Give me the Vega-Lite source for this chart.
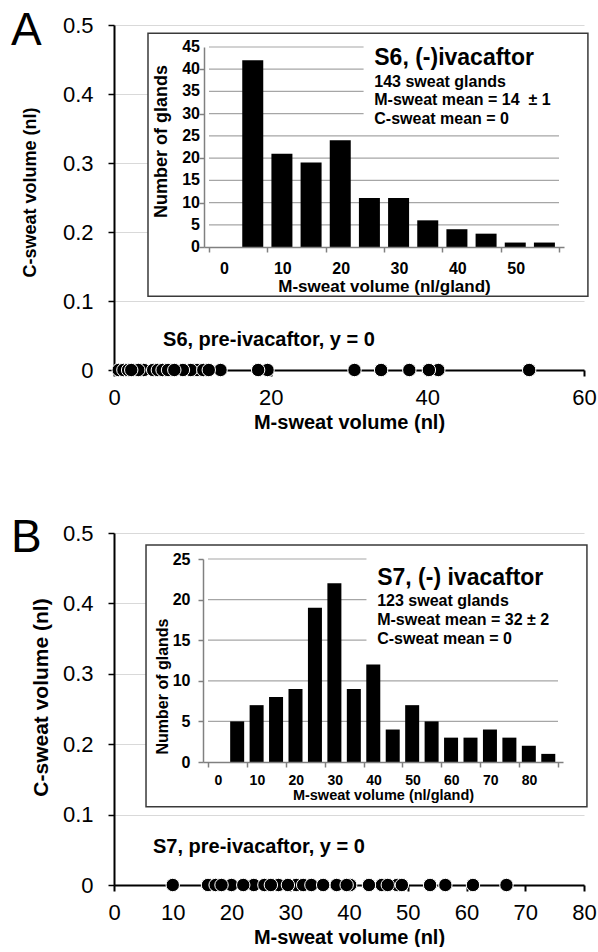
{
  "$schema": "https://vega.github.io/schema/vega-lite/v6.json",
  "padding": {"left": 10, "top": 8, "right": 0, "bottom": 0},
  "background": "white",
  "config": {
    "font": "Liberation Sans",
    "view": {"stroke": null},
    "axis": {"labelColor": "black", "titleColor": "black", "labelFont": "Liberation Sans", "titleFont": "Liberation Sans", "labelOverlap": false, "labelSeparation": 0}
  },
  "datasets": {
    "preA": [
      {"m": 0.6, "c": 0}, {"m": 1.2, "c": 0}, {"m": 1.8, "c": 0}, {"m": 3.8, "c": 0}, {"m": 3.1, "c": 0},
      {"m": 5.0, "c": 0}, {"m": 5.6, "c": 0}, {"m": 6.2, "c": 0}, {"m": 6.9, "c": 0}, {"m": 10.6, "c": 0},
      {"m": 9.8, "c": 0}, {"m": 8.8, "c": 0}, {"m": 13.6, "c": 0}, {"m": 19.6, "c": 0}, {"m": 2.2, "c": 0},
      {"m": 7.7, "c": 0}, {"m": 11.4, "c": 0}, {"m": 12.1, "c": 0}, {"m": 18.4, "c": 0}, {"m": 30.7, "c": 0},
      {"m": 34.1, "c": 0}, {"m": 37.7, "c": 0}, {"m": 41.4, "c": 0}, {"m": 40.2, "c": 0}, {"m": 53.0, "c": 0}
    ],
    "preB": [
      {"m": 16.0, "c": 0}, {"m": 17.3, "c": 0}, {"m": 20.0, "c": 0}, {"m": 23.8, "c": 0}, {"m": 25.6, "c": 0},
      {"m": 28.0, "c": 0}, {"m": 31.0, "c": 0}, {"m": 32.2, "c": 0}, {"m": 33.6, "c": 0}, {"m": 37.9, "c": 0},
      {"m": 40.2, "c": 0}, {"m": 45.6, "c": 0}, {"m": 48.2, "c": 0}, {"m": 49.0, "c": 0},
      {"m": 10.0, "c": 0}, {"m": 18.3, "c": 0}, {"m": 22.0, "c": 0}, {"m": 26.7, "c": 0}, {"m": 29.6, "c": 0},
      {"m": 35.6, "c": 0}, {"m": 39.6, "c": 0}, {"m": 43.4, "c": 0}, {"m": 46.6, "c": 0}, {"m": 53.8, "c": 0},
      {"m": 56.4, "c": 0}, {"m": 61.1, "c": 0}, {"m": 66.8, "c": 0}
    ],
    "histA": [
      {"bin": 5, "n": 42}, {"bin": 10, "n": 21}, {"bin": 15, "n": 19}, {"bin": 20, "n": 24},
      {"bin": 25, "n": 11}, {"bin": 30, "n": 11}, {"bin": 35, "n": 6}, {"bin": 40, "n": 4},
      {"bin": 45, "n": 3}, {"bin": 50, "n": 1}, {"bin": 55, "n": 1}
    ],
    "histB": [
      {"bin": 5, "n": 5}, {"bin": 10, "n": 7}, {"bin": 15, "n": 8}, {"bin": 20, "n": 9},
      {"bin": 25, "n": 19}, {"bin": 30, "n": 22}, {"bin": 35, "n": 9}, {"bin": 40, "n": 12},
      {"bin": 45, "n": 4}, {"bin": 50, "n": 7}, {"bin": 55, "n": 5}, {"bin": 60, "n": 3},
      {"bin": 65, "n": 3}, {"bin": 70, "n": 4}, {"bin": 75, "n": 3}, {"bin": 80, "n": 2}, {"bin": 85, "n": 1}
    ],
    "gridA": [{"g": 5}, {"g": 10}, {"g": 15}, {"g": 20}, {"g": 25}, {"g": 30}, {"g": 35}, {"g": 40}, {"g": 45}],
    "ticksA": [{"v": 0}, {"v": 5}, {"v": 10}, {"v": 15}, {"v": 20}, {"v": 25}, {"v": 30}, {"v": 35}, {"v": 40}, {"v": 45}],
    "gridB": [{"g": 5}, {"g": 10}, {"g": 15}, {"g": 20}, {"g": 25}]
  },
  "bounds": "flush",
  "spacing": 163,
  "vconcat": [
    {
      "width": 470,
      "height": 345,
      "resolve": {"scale": {"x": "independent", "y": "independent"}},
      "layer": [
        {
          "layer": [
            {
              "data": {"name": "preA"},
              "mark": {"type": "circle", "size": 180, "fill": "black", "stroke": "white", "strokeWidth": 1, "opacity": 1},
              "encoding": {
                "x": {
                  "field": "m", "type": "quantitative",
                  "scale": {"domain": [0, 60], "nice": false},
                  "axis": {
                    "orient": "bottom", "values": [0, 20, 40, 60], "grid": false, "zindex": 0,
                    "domainColor": "black", "domainWidth": 2, "tickColor": "black", "tickWidth": 2, "tickSize": 6,
                    "labelFontSize": 22, "labelPadding": 11, "labelFlush": false,
                    "title": "M-sweat volume (nl)", "titleFontSize": 20, "titleFontWeight": "bold", "titlePadding": 4
                  }
                },
                "y": {
                  "field": "c", "type": "quantitative",
                  "scale": {"domain": [0, 0.5], "nice": false},
                  "axis": {
                    "orient": "left", "values": [0, 0.1, 0.2, 0.3, 0.4, 0.5], "format": ".1~f", "zindex": 0,
                    "grid": true, "gridColor": "#d9d9d9", "gridWidth": 1,
                    "domainColor": "black", "domainWidth": 2, "tickColor": "black", "tickWidth": 1.5, "tickSize": 6,
                    "labelFontSize": 22, "labelPadding": 15, "labelFlush": false, "labelOverlap": false,
                    "title": "C-sweat volume (nl)", "titleFontSize": 18, "titleFontWeight": "bold", "titlePadding": 23, "titleY": 167
                  }
                }
              }
            },
            {
              "data": {"values": [{}]},
              "mark": {"type": "rect", "fill": "white", "stroke": "#3a3a3a", "strokeWidth": 1.5},
              "encoding": {
                "x": {"datum": 4.34, "type": "quantitative"},
                "x2": {"datum": 60.5},
                "y": {"datum": 0.488, "type": "quantitative"},
                "y2": {"datum": 0.107}
              }
            },
            {
              "data": {"values": [{"t": "S6, pre-ivacaftor, y = 0"}]},
              "mark": {"type": "text", "align": "left", "baseline": "middle", "fontSize": 20, "fontWeight": "bold", "font": "Liberation Sans", "color": "black"},
              "encoding": {
                "x": {"datum": 6.26, "type": "quantitative"},
                "y": {"datum": 0.0435, "type": "quantitative"},
                "text": {"field": "t"}
              }
            },
            {
              "data": {"values": [{"t": "A"}]},
              "mark": {"type": "text", "align": "left", "baseline": "alphabetic", "fontSize": 46, "font": "Liberation Sans", "color": "black"},
              "encoding": {
                "x": {"datum": -13.15, "type": "quantitative"},
                "y": {"datum": 0.471, "type": "quantitative"},
                "text": {"field": "t"}
              }
            }
          ]
        },
        {
          "layer": [
            {
              "data": {"name": "gridA"},
              "mark": {"type": "rule", "color": "#a6a6a6", "strokeWidth": 1.2},
              "encoding": {
                "x": {
                  "datum": -2.5, "type": "quantitative",
                  "scale": {"domain": [-2.5, 57.5], "range": [90, 450], "nice": false, "zero": false},
                  "axis": {
                    "orient": "bottom", "offset": -123, "zindex": 1, "grid": false,
                    "values": [-2.5, 2.5, 7.5, 12.5, 17.5, 22.5, 27.5, 32.5, 37.5, 42.5, 47.5, 52.5, 57.5],
                    "labelExpr": "(datum.value + 2.5) % 10 == 0 && datum.value < 55 ? format(datum.value + 2.5, 'd') : ''",
                    "labelOffset": 15, "labelOverlap": false, "labelFlush": false, "labelBound": false,
                    "labelFontSize": 16, "labelFontWeight": "bold", "labelPadding": 8,
                    "domainColor": "#808080", "domainWidth": 1.5, "tickColor": "#808080", "tickWidth": 1.5, "tickSize": 5,
                    "title": "M-sweat volume (nl/gland)", "titleFontSize": 17, "titleFontWeight": "bold", "titlePadding": 2
                  }
                },
                "x2": {"datum": 57.5},
                "y": {
                  "field": "g", "type": "quantitative",
                  "scale": {"domain": [0, 45], "range": [222, 22], "nice": false},
                  "axis": {
                    "orient": "left", "offset": -90, "zindex": 1, "grid": false,
                    "values": [0, 5, 10, 15, 20, 25, 30, 35, 40, 45],
                    "labels": false,
                    "domainColor": "#808080", "domainWidth": 1.5, "tickColor": "#808080", "tickWidth": 1.5, "tickSize": 5,
                    "title": "Number of glands", "titleFontSize": 18, "titleFontWeight": "bold", "titlePadding": 28, "titleY": 116
                  }
                }
              }
            },
            {
              "data": {"name": "histA"},
              "mark": {"type": "bar", "color": "black", "size": 21, "orient": "vertical"},
              "encoding": {
                "x": {"field": "bin", "type": "quantitative"},
                "y": {"field": "n", "type": "quantitative"}
              }
            },
            {
              "data": {"name": "ticksA"},
              "mark": {"type": "text", "align": "right", "baseline": "middle", "dx": -9, "fontSize": 16, "fontWeight": "bold", "font": "Liberation Sans", "color": "black"},
              "encoding": {
                "x": {"datum": -2.5, "type": "quantitative"},
                "y": {"field": "v", "type": "quantitative"},
                "text": {"field": "v", "type": "quantitative"}
              }
            },
            {
              "data": {"values": [{}]},
              "mark": {"type": "rect", "fill": "white"},
              "encoding": {
                "x": {"datum": 24, "type": "quantitative"},
                "x2": {"datum": 57.5},
                "y": {"datum": 47, "type": "quantitative"},
                "y2": {"datum": 27}
              }
            },
            {
              "data": {"values": [{"t": "S6, (-)ivacaftor"}]},
              "mark": {"type": "text", "align": "left", "baseline": "middle", "fontSize": 23, "fontWeight": "bold", "font": "Liberation Sans", "color": "black"},
              "encoding": {
                "x": {"datum": 25.83, "type": "quantitative"},
                "y": {"datum": 42.5, "type": "quantitative"},
                "text": {"field": "t"}
              }
            },
            {
              "data": {"values": [{"t": ["143 sweat glands", "M-sweat mean = 14\u00a0 ± 1", "C-sweat mean = 0"]}]},
              "mark": {"type": "text", "align": "left", "baseline": "middle", "fontSize": 16, "lineHeight": 18.5, "fontWeight": "bold", "font": "Liberation Sans", "color": "black"},
              "encoding": {
                "x": {"datum": 25.83, "type": "quantitative"},
                "y": {"datum": 37.13, "type": "quantitative"},
                "text": {"field": "t"}
              }
            }
          ]
        }
      ]
    },
    {
      "width": 470,
      "height": 352,
      "resolve": {"scale": {"x": "independent", "y": "independent"}},
      "layer": [
        {
          "layer": [
            {
              "data": {"name": "preB"},
              "mark": {"type": "circle", "size": 180, "fill": "black", "stroke": "white", "strokeWidth": 1, "opacity": 1},
              "encoding": {
                "x": {
                  "field": "m", "type": "quantitative",
                  "scale": {"domain": [0, 80], "nice": false},
                  "axis": {
                    "orient": "bottom", "values": [0, 10, 20, 30, 40, 50, 60, 70, 80], "grid": false, "zindex": 0,
                    "domainColor": "black", "domainWidth": 2, "tickColor": "black", "tickWidth": 2, "tickSize": 6,
                    "labelFontSize": 22, "labelPadding": 11, "labelFlush": false,
                    "title": "M-sweat volume (nl)", "titleFontSize": 20, "titleFontWeight": "bold", "titlePadding": 4
                  }
                },
                "y": {
                  "field": "c", "type": "quantitative",
                  "scale": {"domain": [0, 0.5], "nice": false},
                  "axis": {
                    "orient": "left", "values": [0, 0.1, 0.2, 0.3, 0.4, 0.5], "format": ".1~f", "zindex": 0,
                    "grid": true, "gridColor": "#d9d9d9", "gridWidth": 1,
                    "domainColor": "black", "domainWidth": 2, "tickColor": "black", "tickWidth": 1.5, "tickSize": 6,
                    "labelFontSize": 22, "labelPadding": 15, "labelFlush": false, "labelOverlap": false,
                    "title": "C-sweat volume (nl)", "titleFontSize": 21, "titleFontWeight": "bold", "titlePadding": 11, "titleY": 164
                  }
                }
              }
            },
            {
              "data": {"values": [{}]},
              "mark": {"type": "rect", "fill": "white", "stroke": "#3a3a3a", "strokeWidth": 1.5},
              "encoding": {
                "x": {"datum": 5.45, "type": "quantitative"},
                "x2": {"datum": 80.5},
                "y": {"datum": 0.483, "type": "quantitative"},
                "y2": {"datum": 0.111}
              }
            },
            {
              "data": {"values": [{"t": "S7, pre-ivacaftor, y = 0"}]},
              "mark": {"type": "text", "align": "left", "baseline": "middle", "fontSize": 20, "fontWeight": "bold", "font": "Liberation Sans", "color": "black"},
              "encoding": {
                "x": {"datum": 6.64, "type": "quantitative"},
                "y": {"datum": 0.054, "type": "quantitative"},
                "text": {"field": "t"}
              }
            },
            {
              "data": {"values": [{"t": "B"}]},
              "mark": {"type": "text", "align": "left", "baseline": "alphabetic", "fontSize": 46, "font": "Liberation Sans", "color": "black"},
              "encoding": {
                "x": {"datum": -17.53, "type": "quantitative"},
                "y": {"datum": 0.473, "type": "quantitative"},
                "text": {"field": "t"}
              }
            }
          ]
        },
        {
          "layer": [
            {
              "data": {"name": "gridB"},
              "mark": {"type": "rule", "color": "#a6a6a6", "strokeWidth": 1.2},
              "encoding": {
                "x": {
                  "datum": -2.5, "type": "quantitative",
                  "scale": {"domain": [-2.5, 87.5], "range": [89, 449], "nice": false, "zero": false},
                  "axis": {
                    "orient": "bottom", "offset": -123, "zindex": 1, "grid": false,
                    "values": [-2.5, 2.5, 7.5, 12.5, 17.5, 22.5, 27.5, 32.5, 37.5, 42.5, 47.5, 52.5, 57.5, 62.5, 67.5, 72.5, 77.5, 82.5, 87.5],
                    "labelExpr": "(datum.value + 2.5) % 10 == 0 && datum.value < 85 ? format(datum.value + 2.5, 'd') : ''",
                    "labelOffset": 10, "labelOverlap": false, "labelFlush": false, "labelBound": false,
                    "labelFontSize": 14, "labelFontWeight": "bold", "labelPadding": 6,
                    "domainColor": "#808080", "domainWidth": 1.5, "tickColor": "#808080", "tickWidth": 1.5, "tickSize": 5,
                    "title": "M-sweat volume (nl/gland)", "titleFontSize": 14.5, "titleFontWeight": "bold", "titlePadding": 1
                  }
                },
                "x2": {"datum": 87.5},
                "y": {
                  "field": "g", "type": "quantitative",
                  "scale": {"domain": [0, 25], "range": [229, 26], "nice": false},
                  "axis": {
                    "orient": "left", "offset": -89, "zindex": 1, "grid": false,
                    "values": [0, 5, 10, 15, 20, 25],
                    "labelFontSize": 16, "labelFontWeight": "bold", "labelPadding": 8, "labelFlush": false, "labelOverlap": false,
                    "domainColor": "#808080", "domainWidth": 1.5, "tickColor": "#808080", "tickWidth": 1.5, "tickSize": 5,
                    "title": "Number of glands", "titleFontSize": 16, "titleFontWeight": "bold", "titlePadding": 2, "titleY": 153
                  }
                }
              }
            },
            {
              "data": {"name": "histB"},
              "mark": {"type": "bar", "color": "black", "size": 14, "orient": "vertical"},
              "encoding": {
                "x": {"field": "bin", "type": "quantitative"},
                "y": {"field": "n", "type": "quantitative"}
              }
            },
            {
              "data": {"values": [{}]},
              "mark": {"type": "rect", "fill": "white"},
              "encoding": {
                "x": {"datum": 38.25, "type": "quantitative"},
                "x2": {"datum": 87.5},
                "y": {"datum": 26, "type": "quantitative"},
                "y2": {"datum": 13}
              }
            },
            {
              "data": {"values": [{"t": "S7, (-) ivacaftor"}]},
              "mark": {"type": "text", "align": "left", "baseline": "middle", "fontSize": 23, "fontWeight": "bold", "font": "Liberation Sans", "color": "black"},
              "encoding": {
                "x": {"datum": 41, "type": "quantitative"},
                "y": {"datum": 22.66, "type": "quantitative"},
                "text": {"field": "t"}
              }
            },
            {
              "data": {"values": [{"t": ["123 sweat glands", "M-sweat mean = 32 ± 2", "C-sweat mean = 0"]}]},
              "mark": {"type": "text", "align": "left", "baseline": "middle", "fontSize": 16, "lineHeight": 19, "fontWeight": "bold", "font": "Liberation Sans", "color": "black"},
              "encoding": {
                "x": {"datum": 41, "type": "quantitative"},
                "y": {"datum": 19.83, "type": "quantitative"},
                "text": {"field": "t"}
              }
            }
          ]
        }
      ]
    }
  ]
}
